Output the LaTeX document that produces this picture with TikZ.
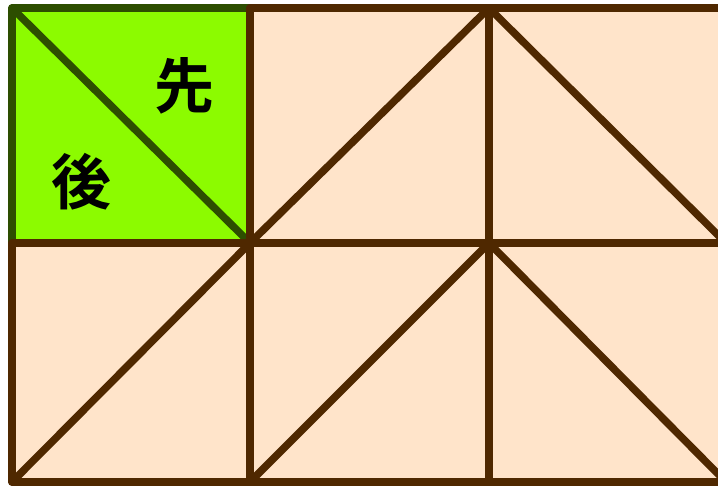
\documentclass[tikz,border=0pt]{standalone}
\usepackage{fontspec}
\newfontfamily\cjk{Noto Sans CJK JP Bold}
\definecolor{peach}{HTML}{FFE4CA}
\definecolor{lime}{HTML}{8CFB00}
\definecolor{darkg}{HTML}{2D4E00}
\definecolor{brownl}{HTML}{4F2800}
\begin{document}
\begin{tikzpicture}[x=1pt,y=-1pt,
  gridline/.style={draw=brownl,line width=7.5pt,line cap=round,line join=round},
  greenline/.style={draw=darkg,line width=7.5pt,line cap=round,line join=round},
  kanji/.style={font=\cjk\fontsize{60}{60}\selectfont,text=black,inner sep=0pt}]
\useasboundingbox (0,0) rectangle (718,486);
\fill[peach] (12,8) rectangle (730,482);
\fill[lime] (12,8) rectangle (250,243);
% green part
\draw[greenline] (12,243) -- (12,8) -- (250,8);
\draw[greenline] (12,8) -- (250,243);
% brown grid
\draw[gridline] (250,8) -- (730,8);
\draw[gridline] (12,243) -- (730,243);
\draw[gridline] (12,243) -- (12,482) -- (730,482);
\draw[gridline] (250,8) -- (250,482);
\draw[gridline] (489,8) -- (489,482);
% diagonals
\draw[gridline] (250,243) -- (489,8) -- (726,243);
\draw[gridline] (12,482) -- (250,243);
\draw[gridline] (250,482) -- (489,243) -- (726,482);
\node[kanji] (sen) at (184,86) {先};
\node[kanji] (go) at (81,182) {後};
\end{tikzpicture}
\end{document}
